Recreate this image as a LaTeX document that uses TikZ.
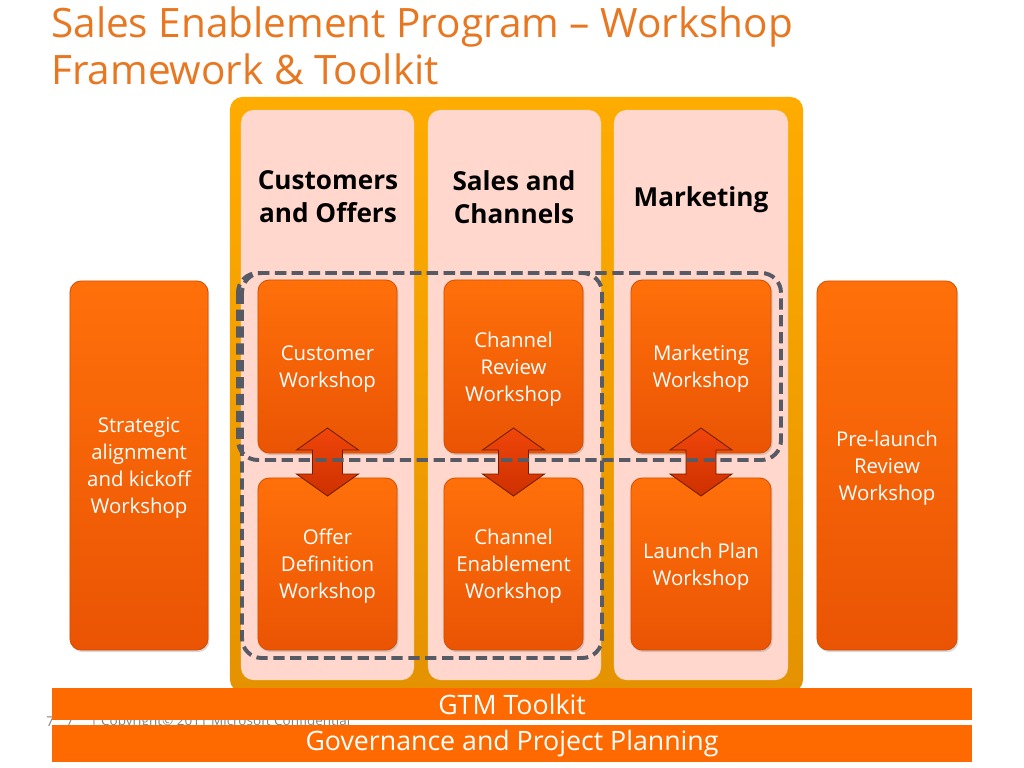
\documentclass[tikz,border=0pt]{standalone}
\usepackage{fontspec}
\setmainfont{Open Sans}
\usetikzlibrary{calc,shadows}

\definecolor{titleorange}{RGB}{232,119,34}
\definecolor{frametop}{RGB}{255,172,0}
\definecolor{framebottom}{RGB}{228,146,0}
\definecolor{colpink}{RGB}{255,215,205}
\definecolor{boxtop}{RGB}{255,112,10}
\definecolor{boxbottom}{RGB}{234,84,4}
\definecolor{boxedge}{RGB}{214,78,0}
\definecolor{arrowtop}{RGB}{240,70,10}
\definecolor{arrowbottom}{RGB}{205,48,0}
\definecolor{arrowedge}{RGB}{110,30,0}
\definecolor{dashgray}{RGB}{85,90,100}
\definecolor{barorange}{RGB}{255,106,0}

\begin{document}
\begin{tikzpicture}[x=0.025cm,y=-0.025cm,
  workshop/.style={draw=boxedge, line width=0.6pt, rounded corners=8pt,
    top color=boxtop, bottom color=boxbottom, text=white, align=center,
    text depth=0pt, font=\fontsize{14.5}{19.3}\selectfont,
    drop shadow={opacity=0.3, shadow xshift=1pt, shadow yshift=-1.5pt}},
  column/.style={fill=colpink, rounded corners=9pt, minimum height=14.25cm},
  header/.style={align=center, text depth=0pt,
    font=\bfseries\fontsize{18.6}{23.5}\selectfont},
  bar/.style={fill=barorange, text=white, minimum width=23cm,
    font=\fontsize{19}{21}\selectfont},
  group/.style={draw=dashgray, line width=2.8pt, dash pattern=on 8pt off 4pt,
    rounded corners=14pt},
  dblarrow/.style={draw=arrowedge, line width=0.6pt, top color=arrowtop,
    bottom color=arrowbottom, line join=miter},
  note/.style={anchor=west, inner sep=0pt, text=gray, font=\fontsize{9.6}{10}\selectfont}]
\useasboundingbox (0,0) rectangle (1024,768);

% Title
\node[anchor=north west, inner sep=0pt, align=left, text=titleorange,
  font=\fontsize{28.8}{34}\selectfont] (title) at (51,6)
  {Sales Enablement Program -- Workshop\\Framework \& Toolkit};

% Footer note (partly hidden by the bars)
\node[note] (pg) at (46,722) {7\hspace{8.5pt}7};
\node[note] (copy) at (90,722) {| Copyright© 2011 Microsoft Confidential};

% Program frame and columns
\node[top color=frametop, bottom color=framebottom, rounded corners=9pt,
  minimum width=14.325cm, minimum height=14.875cm] (frame) at (516.5,394.5) {};
\node[column, minimum width=4.325cm] (col1) at (327.5,395) {};
\node[column, minimum width=4.325cm] (col2) at (514.5,395) {};
\node[column, minimum width=4.35cm] (col3) at (701,395) {};

% Column headers
\node[header] (h1) at (328,197) {Customers\\and Offers};
\node[header] (h2) at (514,197) {Sales and\\Channels};
\node[header] (h3) at (701,197) {Marketing};

% Side workshops
\node[workshop, minimum width=3.45cm, minimum height=9.225cm] (sa) at (139,465.5)
  {Strategic\\alignment\\and kickoff\\Workshop};
\node[workshop, minimum width=3.5cm, minimum height=9.225cm] (pl) at (887,465.5)
  {Pre-launch\\Review\\Workshop};

% Column workshops
\node[workshop, minimum width=3.475cm, minimum height=4.325cm] (cw) at (327.5,366.5) {Customer\\Workshop};
\node[workshop, minimum width=3.475cm, minimum height=4.325cm] (crw) at (513.5,366.5) {Channel\\Review\\Workshop};
\node[workshop, minimum width=3.5cm, minimum height=4.325cm] (mw) at (701,366.5) {Marketing\\Workshop};
\node[workshop, minimum width=3.475cm, minimum height=4.3cm] (od) at (327.5,564) {Offer\\Definition\\Workshop};
\node[workshop, minimum width=3.475cm, minimum height=4.3cm] (cew) at (513.5,564) {Channel\\Enablement\\Workshop};
\node[workshop, minimum width=3.5cm, minimum height=4.3cm] (lp) at (701,564) {Launch Plan\\Workshop};

% Two-way arrows between the workshops of a column
\foreach \a/\b in {cw/od, crw/cew, mw/lp} {
  \coordinate (m) at ($(\a.south)!0.5!(\b.north)+(0,-3.5)$);
  \path[dblarrow] (m) ++(0,-34) -- ++(31,22) -- ++(-16,0) -- ++(0,24) -- ++(16,0)
    -- ++(-31,22) -- ++(-31,-22) -- ++(16,0) -- ++(0,-24) -- ++(-16,0) -- cycle;
}

% Dashed groupings
\draw[group] (238,273) rectangle (781,460);
\draw[group] (242,273) rectangle (602,658);

% Bars
\node[bar, minimum height=0.8cm] (gtm) at (512,704) {GTM Toolkit};
\node[bar, minimum height=0.825cm] (gov) at (512,743.5) {Governance and Project Planning};
\end{tikzpicture}
\end{document}
